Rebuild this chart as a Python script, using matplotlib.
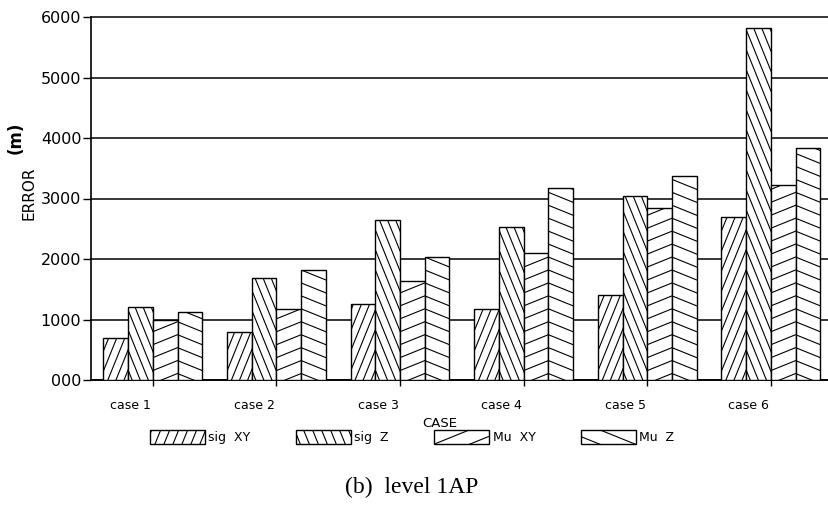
import numpy as np
import matplotlib
matplotlib.use('Agg')
import matplotlib.pyplot as plt
from matplotlib.patches import Rectangle
from matplotlib.collections import LineCollection
from matplotlib.legend_handler import HandlerBase
from matplotlib.transforms import ScaledTranslation

# data
cases = ['case 1', 'case 2', 'case 3', 'case 4', 'case 5', 'case 6']
sig_xy = [700, 800, 1250, 1170, 1410, 2700]
sig_z = [1200, 1680, 2640, 2530, 3040, 5820]
mu_xy = [1000, 1170, 1640, 2100, 2840, 3230]
mu_z = [1120, 1820, 2040, 3170, 3370, 3830]
series_names = ['sig  XY', 'sig  Z', 'Mu  XY', 'Mu  Z']
ytick_vals = [0, 1000, 2000, 3000, 4000, 5000, 6000]
ytick_labels = ['000', '1000', '2000', '3000', '4000', '5000', '6000']

# hatch style per series: angle in degrees (pixel space), spacing in pixels
hatch_styles = [(68, 7.5), (-68, 7.5), (22, 12.0), (-22, 12.0)]


def hatch_segments(x0, y0, w, h, angle, spacing):
    # parallel lines covering a box, to be clipped to it later
    a = np.radians(angle)
    d = np.array([np.cos(a), np.sin(a)])
    n = np.array([-np.sin(a), np.cos(a)])
    corners = np.array([[x0, y0], [x0 + w, y0], [x0, y0 + h], [x0 + w, y0 + h]])
    proj = corners @ n
    c = np.array([x0 + w / 2, y0 + h / 2])
    pc = c @ n
    L = np.hypot(w, h)
    segs = []
    for p in np.arange(proj.min() + spacing / 2, proj.max(), spacing):
        m = c + (p - pc) * n
        segs.append([m - L * d, m + L * d])
    return segs


class HatchHandler(HandlerBase):
    def __init__(self, angle, spacing):
        super().__init__()
        self.angle = angle
        self.spacing = spacing

    def create_artists(self, legend, orig_handle, xdescent, ydescent,
                       width, height, fontsize, trans):
        rect = Rectangle((-xdescent, -ydescent), width, height,
                         facecolor='white', edgecolor='black', lw=1.0,
                         transform=trans)
        segs = hatch_segments(-xdescent, -ydescent, width, height,
                              self.angle, self.spacing * 0.8)
        lc = LineCollection(segs, colors='black', linewidths=0.8, transform=trans)
        lc.set_clip_path(rect)
        return [rect, lc]


fig = plt.figure(figsize=(8.29, 5.14), dpi=100)
ax = fig.add_axes([91 / 829, 1 - 380 / 514, (829 - 91) / 829, 363 / 514])
ax.set_xlim(-0.5, 5.47)
ax.set_ylim(0, 6000)

x = np.arange(len(cases))
width = 0.2
all_series = [sig_xy, sig_z, mu_xy, mu_z]

# pixel scale of the data axes, used to keep hatch angles in pixel space
bbox = ax.get_window_extent()
sx = bbox.width / (ax.get_xlim()[1] - ax.get_xlim()[0])
sy = bbox.height / (ax.get_ylim()[1] - ax.get_ylim()[0])

handles = []
for i, vals in enumerate(all_series):
    bars = ax.bar(x + (i - 1.5) * width, vals, width, facecolor='white',
                  edgecolor='black', linewidth=1.0, zorder=3)
    angle, spacing = hatch_styles[i]
    for b in bars:
        bx, by = b.get_x(), b.get_y()
        segs = hatch_segments(bx * sx, by * sy, b.get_width() * sx,
                              b.get_height() * sy, angle, spacing)
        segs = [[(p[0] / sx, p[1] / sy) for p in s] for s in segs]
        lc = LineCollection(segs, colors='black', linewidths=0.8, zorder=4)
        ax.add_collection(lc)
        lc.set_clip_path(b)
    handles.append(bars[0])

# axes styling
for side in ['top', 'right']:
    ax.spines[side].set_visible(False)
ax.spines['left'].set_linewidth(1.2)
ax.spines['bottom'].set_linewidth(1.2)
ax.set_yticks(ytick_vals)
ax.set_yticklabels(ytick_labels, fontsize=11.5)
ax.yaxis.grid(True, color='black', linewidth=1.1, zorder=1)
ax.set_axisbelow(True)
for gl in ax.yaxis.get_gridlines():
    gl.set_clip_on(False)
ax.tick_params(axis='y', length=6, width=1.0, pad=1)

ax.set_xticks(x)
ax.set_xticklabels(cases, fontsize=9)
ax.tick_params(axis='x', direction='inout', length=8, width=1.0, pad=10)
for lab in ax.get_xticklabels():
    lab.set_transform(lab.get_transform() + ScaledTranslation(-0.22, 0, fig.dpi_scale_trans))

ax.set_xlabel('CASE', fontsize=9.5)
ax.xaxis.set_label_coords((440 - 91) / 738, (380 - 417) / 363)

fig.text(29 / 829, 1 - 193 / 514, 'ERROR', rotation=90, fontsize=11,
         ha='center', va='center')
fig.text(16 / 829, 1 - 138 / 514, '(m)', rotation=90, fontsize=12,
         fontweight='bold', ha='center', va='center')

handler_map = {h: HatchHandler(*hatch_styles[i]) for i, h in enumerate(handles)}
fig.legend(handles, series_names, loc='center', bbox_to_anchor=(412 / 829, 1 - 437 / 514),
           ncol=4, frameon=False, fontsize=9, handlelength=4.4, handleheight=1.3,
           handletextpad=0.3, columnspacing=3.6, handler_map=handler_map)

fig.text(412 / 829, 1 - 487 / 514, '(b)  level 1AP', fontsize=17,
         family='Liberation Serif', ha='center', va='center')

plt.savefig('out.png', dpi=100)
